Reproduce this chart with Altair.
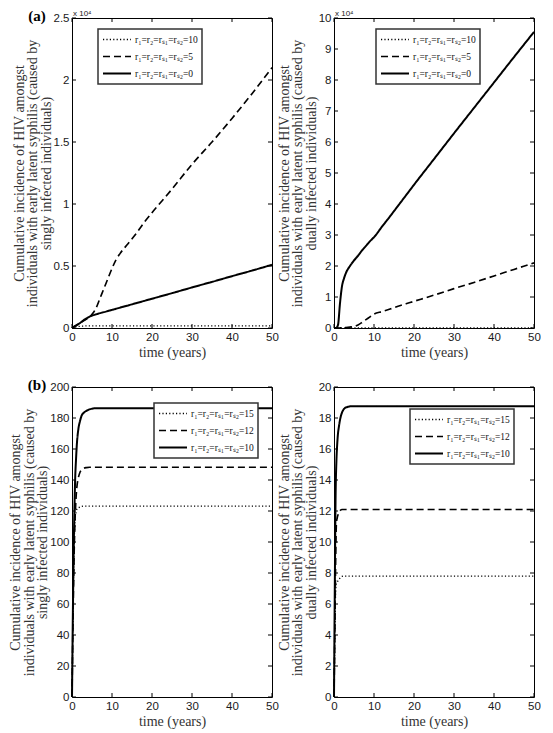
import altair as alt
import pandas as pd

# ---------------- data ----------------
# (a) left: singly infected individuals, values in units of 10^4
a1_time = [0, 1, 2, 3, 4, 5, 6, 7, 8, 9, 10, 11, 12, 14, 16, 18, 20, 25, 30, 35, 40, 45, 50]
a1_r10 = [0, 0.010, 0.014, 0.016, 0.017, 0.017, 0.017, 0.017, 0.017, 0.017, 0.017, 0.017,
          0.017, 0.017, 0.017, 0.017, 0.017, 0.017, 0.017, 0.017, 0.017, 0.017, 0.017]
a1_r5 = [0, 0.02, 0.04, 0.06, 0.08, 0.11, 0.16, 0.24, 0.32, 0.40, 0.48, 0.55,
         0.60, 0.68, 0.76, 0.85, 0.93, 1.12, 1.32, 1.50, 1.69, 1.89, 2.10]
a1_r0 = [0, 0.02, 0.04, 0.065, 0.085, 0.10, 0.11, 0.12, 0.128, 0.137, 0.146, 0.155,
         0.164, 0.182, 0.20, 0.218, 0.236, 0.281, 0.327, 0.372, 0.418, 0.463, 0.51]

# (a) right: dually infected individuals, values in units of 10^4
a2_time = [0, 0.5, 1, 1.5, 2, 2.5, 3, 4, 5, 6, 7, 8, 9, 10, 12, 14, 16, 18, 20, 25, 30, 35, 40, 45, 50]
a2_r10 = [0, 0.001, 0.002, 0.002, 0.002, 0.002, 0.002, 0.002, 0.002, 0.002, 0.002, 0.002, 0.002,
          0.002, 0.002, 0.002, 0.002, 0.002, 0.002, 0.002, 0.002, 0.002, 0.002, 0.002, 0.002]
a2_r5 = [0, 0, 0, 0.002, 0.005, 0.01, 0.015, 0.03, 0.05, 0.10, 0.18, 0.27, 0.36,
         0.45, 0.53, 0.61, 0.70, 0.78, 0.86, 1.06, 1.27, 1.47, 1.68, 1.89, 2.10]
a2_r0 = [0, 0, 0.10, 0.80, 1.35, 1.60, 1.78, 2.00, 2.18, 2.33, 2.50, 2.65, 2.80,
         2.93, 3.27, 3.60, 3.94, 4.28, 4.62, 5.45, 6.28, 7.10, 7.92, 8.74, 9.55]

# (b) shared time grid
b_time = [0, 0.2, 0.4, 0.6, 0.8, 1.0, 1.2, 1.6, 2.0, 2.4, 3.0, 3.6, 4.4, 5.2, 6, 8, 10, 20, 30, 40, 50]
# (b) left: singly infected individuals
b1_r15 = [0, 40, 80, 104, 115, 119, 121, 122, 122.6, 123, 123.2, 123.2, 123.2, 123.2,
          123.2, 123.2, 123.2, 123.2, 123.2, 123.2, 123.2]
b1_r12 = [0, 40, 75, 100, 117, 128, 135, 141.5, 145, 146.5, 147.6, 148, 148.2, 148.2,
          148.2, 148.2, 148.2, 148.2, 148.2, 148.2, 148.2]
b1_r10 = [0, 50, 91, 120, 141.5, 153, 162.5, 173, 178, 181.5, 183.5, 184.6, 185.6, 186.1,
          186.3, 186.3, 186.3, 186.3, 186.3, 186.3, 186.3]
# (b) right: dually infected individuals
b2_r15 = [0, 3.5, 6.8, 7.3, 7.4, 7.5, 7.58, 7.7, 7.78, 7.8, 7.8, 7.8, 7.8, 7.8,
          7.8, 7.8, 7.8, 7.8, 7.8, 7.8, 7.8]
b2_r12 = [0, 4, 8.5, 11.2, 11.55, 11.75, 11.9, 12.05, 12.1, 12.1, 12.1, 12.1, 12.1, 12.1,
          12.1, 12.1, 12.1, 12.1, 12.1, 12.1, 12.1]
b2_r10 = [0, 7, 13, 15.2, 16.3, 17.0, 17.4, 18.0, 18.35, 18.55, 18.68, 18.73, 18.76, 18.76,
          18.76, 18.76, 18.76, 18.76, 18.76, 18.76, 18.76]

labels_a = ["r\u2081=r\u2082=r\u209b\u2081=r\u209b\u2082=10",
            "r\u2081=r\u2082=r\u209b\u2081=r\u209b\u2082=5",
            "r\u2081=r\u2082=r\u209b\u2081=r\u209b\u2082=0"]
labels_b = ["r\u2081=r\u2082=r\u209b\u2081=r\u209b\u2082=15",
            "r\u2081=r\u2082=r\u209b\u2081=r\u209b\u2082=12",
            "r\u2081=r\u2082=r\u209b\u2081=r\u209b\u2082=10"]

x_ticks = [0, 10, 20, 30, 40, 50]
y_ticks_a1 = [0, 0.5, 1, 1.5, 2, 2.5]
y_ticks_a2 = [0, 1, 2, 3, 4, 5, 6, 7, 8, 9, 10]
y_ticks_b1 = [0, 20, 40, 60, 80, 100, 120, 140, 160, 180, 200]
y_ticks_b2 = [0, 2, 4, 6, 8, 10, 12, 14, 16, 18, 20]

title_single = ["Cumulative incidence of HIV amongst",
                "individuals with early latent syphilis (caused by",
                "singly infected individuals)"]
title_dual = ["Cumulative incidence of HIV amongst",
              "individuals with early latent syphilis (caused by",
              "dually infected individuals)"]

# ---------------- styling ----------------
W, H = 200, 310
TICK = 4
DASHES = [[1.2, 2.2], [7, 4], [1, 0]]
WIDTHS = [1.3, 2, 2]
SERIF = "Liberation Serif"
SANS = "Liberation Sans"


def make_df(time, series, labels):
    rows = []
    for lab, vals in zip(labels, series):
        for t, v in zip(time, vals):
            rows.append({"t": t, "v": v, "series": lab})
    return pd.DataFrame(rows)


def panel(df, labels, ymax, yticks, yfmt, ytitle, lx, ly, tag=None, exp=False):
    xs = alt.Scale(domain=[0, 50], nice=False, zero=False)
    ys = alt.Scale(domain=[0, ymax], nice=False, zero=False)
    xaxis = alt.Axis(values=x_ticks, format="d", title="time (years)")
    yaxis = alt.Axis(values=yticks, format=yfmt, title=ytitle)
    lines = alt.Chart(df).mark_line(interpolate="monotone", color="black").encode(
        x=alt.X("t:Q", scale=xs, axis=xaxis),
        y=alt.Y("v:Q", scale=ys, axis=yaxis),
        strokeDash=alt.StrokeDash(
            "series:N", scale=alt.Scale(domain=labels, range=DASHES),
            legend=alt.Legend(orient="none", legendX=lx, legendY=ly, title=None)),
        strokeWidth=alt.StrokeWidth(
            "series:N", scale=alt.Scale(domain=labels, range=WIDTHS), legend=None),
    )
    xt = pd.DataFrame({"v": x_ticks})
    yt = pd.DataFrame({"v": yticks})
    xenc = alt.X("v:Q", scale=xs, axis=xaxis)
    yenc = alt.Y("v:Q", scale=ys, axis=yaxis)
    bot = alt.Chart(xt).mark_rule(color="black").encode(
        x=xenc, y=alt.value(H), y2=alt.value(H - TICK))
    top = alt.Chart(xt).mark_rule(color="black").encode(
        x=xenc, y=alt.value(0), y2=alt.value(TICK))
    left = alt.Chart(yt).mark_rule(color="black").encode(
        y=yenc, x=alt.value(0), x2=alt.value(TICK))
    right = alt.Chart(yt).mark_rule(color="black").encode(
        y=yenc, x=alt.value(W - TICK), x2=alt.value(W))
    layers = [lines, bot, top, left, right]
    if tag:
        layers.append(
            alt.Chart(pd.DataFrame({"s": [tag]})).mark_text(
                font=SERIF, fontSize=15, fontWeight="bold", align="center",
                baseline="middle", color="black"
            ).encode(text="s:N", x=alt.value(-35), y=alt.value(-2)))
    if exp:
        layers.append(
            alt.Chart(pd.DataFrame({"s": ["x 10\u2074"]})).mark_text(
                font=SANS, fontSize=8, align="left", baseline="middle", color="#222"
            ).encode(text="s:N", x=alt.value(1), y=alt.value(-4)))
    return alt.layer(*layers).properties(width=W, height=H)


df_a1 = make_df(a1_time, [a1_r10, a1_r5, a1_r0], labels_a)
df_a2 = make_df(a2_time, [a2_r10, a2_r5, a2_r0], labels_a)
df_b1 = make_df(b_time, [b1_r15, b1_r12, b1_r10], labels_b)
df_b2 = make_df(b_time, [b2_r15, b2_r12, b2_r10], labels_b)

p1 = panel(df_a1, labels_a, 2.5, y_ticks_a1, "~g", title_single, 26, 11, tag="(a)", exp=True)
p2 = panel(df_a2, labels_a, 10, y_ticks_a2, "d", title_dual, 42, 11, exp=True)
p3 = panel(df_b1, labels_b, 200, y_ticks_b1, "d", title_single, 82, 16, tag="(b)")
p4 = panel(df_b2, labels_b, 20, y_ticks_b2, "d", title_dual, 76, 22)

chart = alt.concat(
    p1, p2, p3, p4, columns=2,
    spacing=alt.RowColnumber(row=59, column=62),
    bounds="flush",
    padding=0,
).resolve_scale(
    strokeDash="independent", strokeWidth="independent", x="independent", y="independent"
).resolve_legend(
    strokeDash="independent", strokeWidth="independent"
).configure_view(
    stroke="black", strokeWidth=1
).configure_axis(
    domain=False, ticks=False, grid=False, labelFlush=False,
    labelFont=SANS, labelFontSize=11.5, labelColor="#1a1a1a", labelPadding=3,
    titleFont=SERIF, titleFontWeight="normal", titleColor="#333333",
).configure_axisY(
    titlePadding=0, titleLineHeight=13.5, titleFontSize=14
).configure_axisX(
    titlePadding=3, titleFontSize=14
).configure_legend(
    fillColor="white", strokeColor="#333333", strokeWidth=1.5, padding=4,
    rowPadding=4, clipHeight=13, symbolType="stroke", symbolSize=784, symbolStrokeWidth=2,
    symbolStrokeColor="black", labelFont=SERIF, labelFontSize=9.5, labelColor="#111111",
    labelOffset=3,
)

chart.save("out.html", embed_options={"renderer": "svg", "actions": False})
